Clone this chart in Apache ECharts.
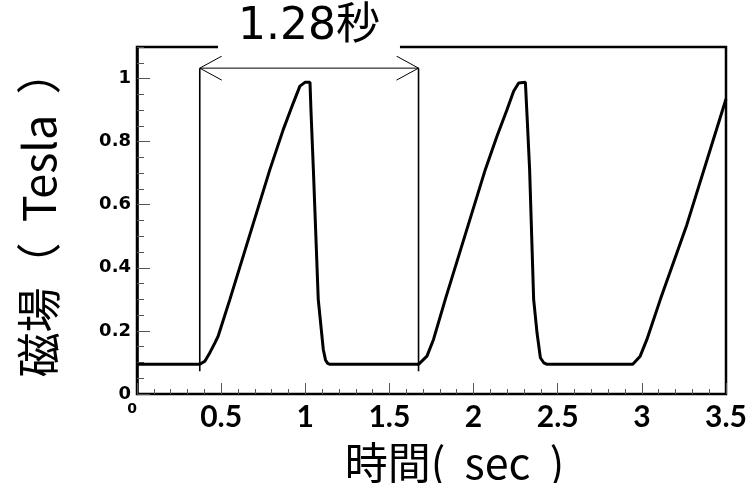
<!DOCTYPE html>
<html><head><meta charset="utf-8">
<script src="https://cdn.jsdelivr.net/npm/echarts@6/dist/echarts.min.js"></script>
<style>html,body{margin:0;padding:0;background:#fff}#c{width:753px;height:483px}</style>
</head><body><div id="c"></div>
<script>
// Magnetic field (Tesla) vs time (sec)
const timeSec = [0, 0.373, 0.403, 0.433, 0.463, 0.482, 0.552, 0.790, 0.869, 0.929, 0.968, 0.998, 1.028, 1.034, 1.048, 1.077, 1.107, 1.120, 1.133, 1.147,
  1.673, 1.723, 1.762, 1.832, 2.070, 2.139, 2.199, 2.238, 2.268, 2.308, 2.318, 2.333, 2.357, 2.377, 2.397, 2.417, 2.437,
  2.946, 2.990, 3.030, 3.110, 3.267, 3.5];
const fieldTesla = [0.094, 0.094, 0.104, 0.131, 0.162, 0.183, 0.30, 0.712, 0.838, 0.923, 0.976, 0.988, 0.988, 0.896, 0.712, 0.30, 0.141, 0.108, 0.097, 0.094,
  0.094, 0.120, 0.173, 0.30, 0.712, 0.817, 0.902, 0.960, 0.986, 0.988, 0.880, 0.712, 0.30, 0.194, 0.115, 0.099, 0.094,
  0.094, 0.120, 0.173, 0.30, 0.536, 0.935];
// Period annotation: start / end times, arrow level, bottom of the marker lines
const periodMarks = [0.373, 1.673];
const periodArrowLevel = [1.033];
const periodMarkBottom = [0.072];
const periodLabel = '1.28秒';
const xName = '時間(  sec  )';
const yName = '磁場（  Tesla  ）';

const curve = timeSec.map((t, i) => [t, fieldTesla[i]]);
const fmt = v => String(+(+v).toFixed(2));

const chart = echarts.init(document.getElementById('c'), null, {renderer: 'canvas'});
chart.setOption({
  animation: false,
  backgroundColor: '#fff',
  title: {
    text: periodLabel, left: 218, top: 0,
    backgroundColor: '#fff', padding: [4, 20, 4, 20],
    textStyle: {fontFamily: 'DejaVu Sans, Noto Sans CJK JP', fontSize: 44, fontWeight: 'normal', color: '#000', lineHeight: 48}
  },
  grid: {left: 137, right: 27, top: 47, bottom: 89, outerBoundsMode: 'none', containLabel: false,
    show: true, borderColor: '#000', borderWidth: 2.5, backgroundColor: 'transparent'},
  xAxis: {
    type: 'value', min: 0, max: 3.5, interval: 0.5,
    name: xName, nameLocation: 'middle', nameGap: 47,
    nameTextStyle: {fontFamily: 'Noto Sans CJK JP', fontSize: 43, color: '#000', padding: [0, 0, 0, 46]},
    axisLine: {show: true, lineStyle: {color: '#000', width: 2}},
    axisTick: {show: true, inside: true, length: 11, lineStyle: {color: '#555', width: 1}},
    minorTick: {show: true, splitNumber: 5, length: 5, lineStyle: {color: '#555', width: 1}},
    splitLine: {show: false},
    axisLabel: {
      margin: 8, color: '#000', fontFamily: 'Lato', fontWeight: 'bold', fontSize: 30,
      formatter: v => v === 0 ? '{z|0}' : fmt(v),
      rich: {z: {fontFamily: 'DejaVu Sans', fontWeight: 'bold', fontSize: 14, color: '#000', padding: [0, 10, 28, 0]}}
    }
  },
  yAxis: [{
    type: 'value', min: 0, max: 1.1, interval: 0.2, position: 'left',
    name: yName, nameLocation: 'middle', nameGap: 76, nameRotate: 90,
    nameTextStyle: {fontFamily: 'Noto Sans CJK JP', fontSize: 45, color: '#000', padding: [0, 0, 0, 14]},
    axisLine: {show: true, lineStyle: {color: '#000', width: 2.5}},
    axisTick: {show: true, inside: true, length: 13, lineStyle: {color: '#555', width: 1}},
    splitLine: {show: false},
    axisLabel: {showMaxLabel: false, margin: 6, color: '#000', fontFamily: 'DejaVu Sans', fontWeight: 'bold', fontSize: 18, formatter: fmt}
  }, {
    type: 'value', min: 0, max: 1.1, interval: 0.05, position: 'left', offset: 0,
    axisLine: {show: false}, axisLabel: {show: false}, splitLine: {show: false},
    axisTick: {show: true, inside: true, length: 7, lineStyle: {color: '#555', width: 1}}
  }],
  series: [{
    type: 'line', data: curve, showSymbol: false, symbol: 'none', smooth: false,
    lineStyle: {color: '#000', width: 3}, z: 3
  }, {
    type: 'custom', coordinateSystem: 'cartesian2d', z: 2,
    encode: {x: [0, 1], y: [2, 3]},
    data: [[periodMarks[0], periodMarks[1], periodArrowLevel[0], periodMarkBottom[0]]],
    renderItem: (params, api) => {
      const a = api.coord([api.value(0), api.value(2)]);
      const b = api.coord([api.value(1), api.value(2)]);
      const a0 = api.coord([api.value(0), api.value(3)]);
      const b0 = api.coord([api.value(1), api.value(3)]);
      const st = {stroke: '#000', lineWidth: 1.6};
      const thin = {stroke: '#000', lineWidth: 1};
      const L = 22, H = 12;
      const ln = (p, q, s) => ({type: 'line', shape: {x1: p[0], y1: p[1], x2: q[0], y2: q[1]}, style: s});
      return {type: 'group', children: [
        ln(a, a0, st), ln(b, b0, st), ln(a, b, thin),
        ln(a, [a[0] + L, a[1] - H], thin), ln(a, [a[0] + L, a[1] + H], thin),
        ln(b, [b[0] - L, b[1] - H], thin), ln(b, [b[0] - L, b[1] + H], thin)
      ]};
    }
  }]
});
</script></body></html>
